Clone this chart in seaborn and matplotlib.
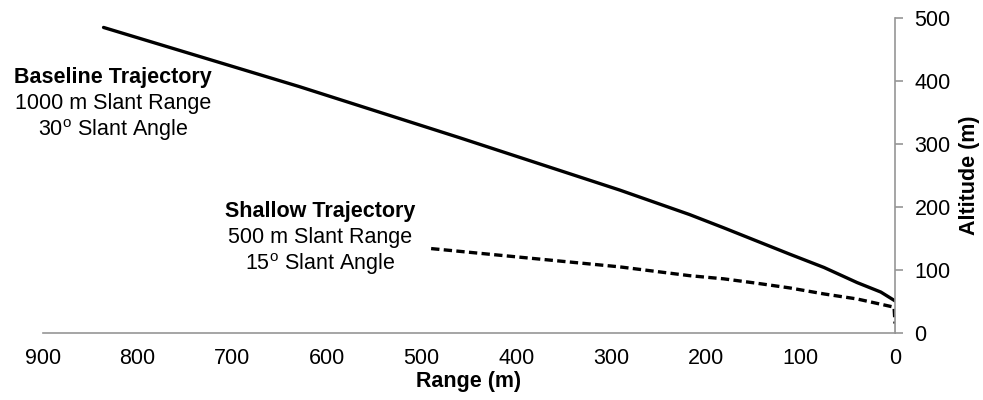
import seaborn as sns
import pandas as pd
import matplotlib.pyplot as plt

# values
baseline_range = [836, 629, 460, 291, 217, 181, 146, 111, 75, 40, 15, 0]
baseline_alt = [485, 391, 310, 227, 188, 167, 146, 125, 104, 80, 65, 51]
shallow_range = [490, 291, 217, 181, 146, 111, 75, 40, 1, 0, 0]
shallow_alt = [134, 105, 91, 86, 79, 71.5, 62, 54, 41, 30, 0]

x_ticks = [900, 800, 700, 600, 500, 400, 300, 200, 100, 0]
y_ticks = [0, 100, 200, 300, 400, 500]

sns.set_style("white")
plt.rcParams['font.family'] = ['Liberation Sans', 'DejaVu Sans']
plt.rcParams['text.color'] = 'black'
plt.rcParams['axes.labelcolor'] = 'black'
fs = 15.5

fig = plt.figure(figsize=(9.83, 4), dpi=100)
ax = fig.add_axes([0.0437, 0.1675, 0.8668, 0.7875])

base = pd.DataFrame({'Range': baseline_range, 'Altitude': baseline_alt})
shal = pd.DataFrame({'Range': shallow_range, 'Altitude': shallow_alt})
sns.lineplot(data=base, x='Range', y='Altitude', sort=False, color='black', lw=2.4, ax=ax)
sns.lineplot(data=shal, x='Range', y='Altitude', sort=False, color='black', lw=2.4,
             ax=ax, linestyle=(0, (2.5, 1.3)))

ax.set_xlim(900, 0)
ax.set_ylim(0, 500)
ax.set_xticks(x_ticks)
ax.set_yticks(y_ticks)

ax.yaxis.tick_right()
ax.yaxis.set_label_position('right')
for s in ['top', 'left']:
    ax.spines[s].set_visible(False)
for s in ['bottom', 'right']:
    ax.spines[s].set_color('#969696')
    ax.spines[s].set_linewidth(1.2)
ax.tick_params(axis='both', colors='#969696', labelcolor='black', labelsize=fs,
               length=6, width=1.2, direction='out')
ax.tick_params(axis='x', pad=5)
ax.tick_params(axis='y', pad=8)

ax.set_xlabel('Range (m)', fontsize=fs, fontweight='bold', labelpad=1)
ax.set_ylabel('Altitude (m)', fontsize=fs, fontweight='bold', labelpad=6)

fig.text(113 / 983, 1 - 77 / 400, 'Baseline Trajectory', ha='center', va='center',
         fontsize=fs, fontweight='bold')
fig.text(113 / 983, 1 - 103 / 400, '1000 m Slant Range', ha='center', va='center', fontsize=fs)
fig.text(113 / 983, 1 - 130 / 400, '30$^\\mathregular{o}$ Slant Angle', ha='center', va='center',
         fontsize=fs)

fig.text(320 / 983, 1 - 212 / 400, 'Shallow Trajectory', ha='center', va='center',
         fontsize=fs, fontweight='bold')
fig.text(320 / 983, 1 - 238 / 400, '500 m Slant Range', ha='center', va='center', fontsize=fs)
fig.text(320 / 983, 1 - 264 / 400, '15$^\\mathregular{o}$ Slant Angle', ha='center', va='center',
         fontsize=fs)

fig.savefig('out.png', dpi=100)
